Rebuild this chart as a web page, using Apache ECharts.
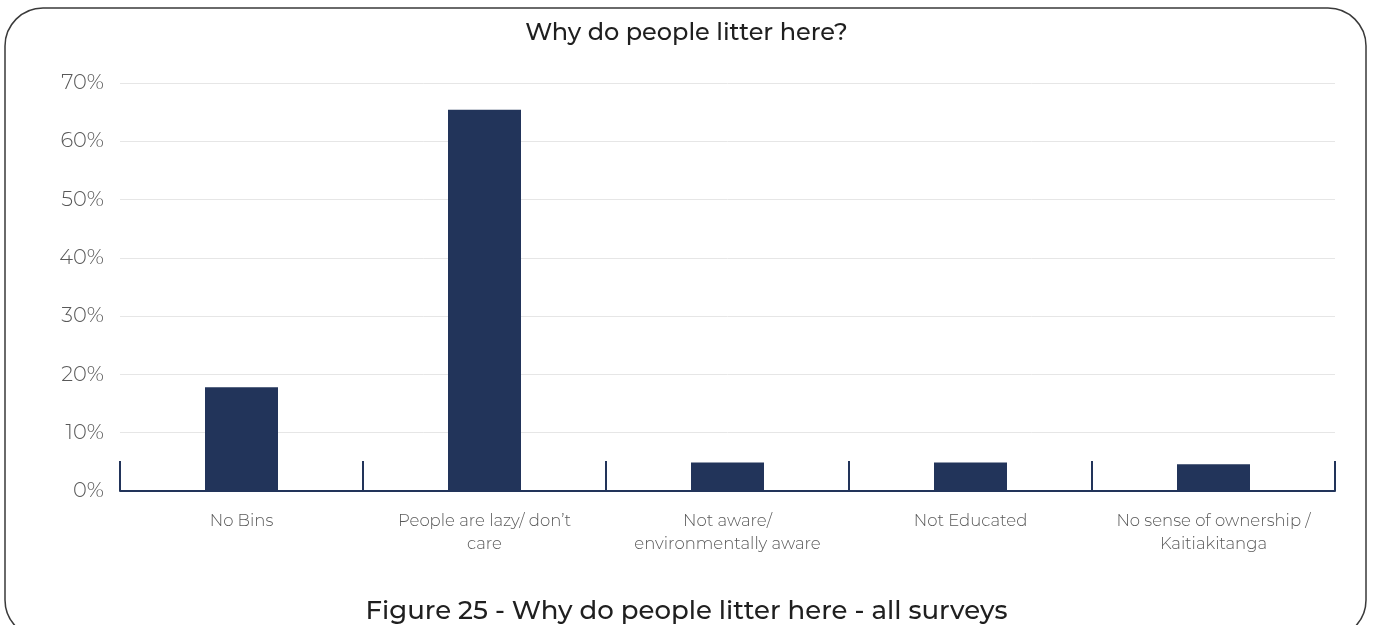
<!DOCTYPE html>
<html>
<head>
<meta charset="utf-8">
<script src="https://cdn.jsdelivr.net/npm/echarts@6/dist/echarts.min.js"></script>
<style>
html,body{margin:0;padding:0;background:#fff;}
#chart{width:1373px;height:625px;}
</style>
</head>
<body>
<div id="chart"></div>
<script>
const categories = [
  "No Bins",
  "People are lazy/ don\u2019t\ncare",
  "Not aware/\nenvironmentally aware",
  "Not Educated",
  "No sense of ownership /\nKaitiakitanga"
];
const values = [17.8, 65.4, 4.9, 4.9, 4.6];
const yTicks = [0, 10, 20, 30, 40, 50, 60, 70];

const chart = echarts.init(document.getElementById('chart'), null, {renderer: 'canvas'});
const navy = '#22345a';
const font = 'Montserrat, "Noto Sans", sans-serif';
chart.setOption({
  backgroundColor: '#ffffff',
  animation: false,
  title: [
    {
      text: 'Why do people litter here?',
      left: 'center', top: 16,
      textStyle: {fontFamily: font, fontSize: 24, fontWeight: 500, color: '#1f1f1f'}
    },
    {
      text: 'Figure 25 - Why do people litter here - all surveys',
      left: 'center', top: 593,
      textStyle: {fontFamily: font, fontSize: 26, fontWeight: 500, color: '#1f1f1f'}
    }
  ],
  graphic: [
    {
      type: 'rect',
      shape: {x: 5, y: 8, width: 1361, height: 630, r: 38},
      style: {fill: 'none', stroke: '#3a3a3a', lineWidth: 1.5},
      silent: true, z: -1
    }
  ],
  grid: {left: 120, right: 38, top: 83, bottom: 134, containLabel: false},
  xAxis: {
    type: 'category',
    data: categories,
    axisLine: {show: true, lineStyle: {color: navy, width: 2}},
    axisTick: {show: true, inside: true, length: 30, lineStyle: {color: navy, width: 2}},
    axisLabel: {
      interval: 0, margin: 19, color: '#595959', fontSize: 16.5, lineHeight: 23,
      fontFamily: font, fontWeight: 300
    },
    splitLine: {show: false}
  },
  yAxis: {
    type: 'value',
    min: yTicks[0], max: yTicks[yTicks.length - 1], interval: 10,
    axisLine: {show: false},
    axisTick: {show: false},
    axisLabel: {
      formatter: '{value}%', margin: 16, color: '#595959', fontSize: 21,
      fontFamily: font, fontWeight: 300
    },
    splitLine: {show: true, lineStyle: {color: '#e6e6e6', width: 1}}
  },
  series: [{
    type: 'bar',
    data: values,
    barWidth: 73,
    itemStyle: {color: navy},
    z: 3
  }]
});
</script>
</body>
</html>
